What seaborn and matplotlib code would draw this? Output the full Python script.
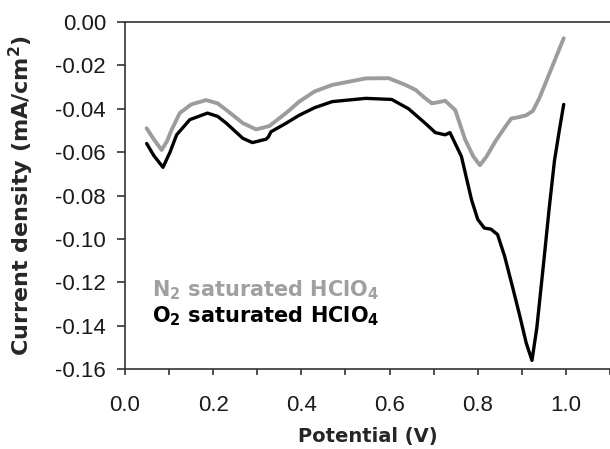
import matplotlib
matplotlib.use("Agg")
import matplotlib.pyplot as plt
import seaborn as sns
import pandas as pd
from matplotlib.ticker import MultipleLocator

# N2 saturated HClO4 (gray)
n2_potential = [0.049, 0.065, 0.083, 0.095, 0.105, 0.124, 0.15, 0.184, 0.21, 0.23, 0.267, 0.297,
                0.327, 0.365, 0.395, 0.43, 0.47, 0.546, 0.598, 0.636, 0.659, 0.68, 0.696, 0.71,
                0.726, 0.749, 0.771, 0.79, 0.805, 0.82, 0.84, 0.86, 0.876, 0.89, 0.91, 0.925,
                0.94, 0.96, 0.978, 0.995]
n2_current = [-0.049, -0.054, -0.059, -0.055, -0.050, -0.042, -0.038, -0.036, -0.0375, -0.0406,
              -0.0466, -0.0495, -0.048, -0.042, -0.0367, -0.032, -0.029, -0.026, -0.0259, -0.029,
              -0.0313, -0.035, -0.0375, -0.037, -0.0363, -0.0406, -0.054, -0.062, -0.066, -0.062,
              -0.055, -0.049, -0.0445, -0.044, -0.043, -0.041, -0.035, -0.025, -0.016, -0.0075]

# O2 saturated HClO4 (black)
o2_potential = [0.049, 0.065, 0.086, 0.102, 0.117, 0.147, 0.187, 0.21, 0.23, 0.267, 0.289, 0.32,
                0.325, 0.331, 0.365, 0.395, 0.43, 0.47, 0.546, 0.605, 0.643, 0.681, 0.704, 0.726,
                0.737, 0.763, 0.786, 0.80, 0.815, 0.83, 0.845, 0.861, 0.88, 0.896, 0.91, 0.923,
                0.934, 0.95, 0.962, 0.974, 0.985, 0.995]
o2_current = [-0.056, -0.0615, -0.067, -0.060, -0.052, -0.045, -0.042, -0.0435, -0.0467, -0.0536,
              -0.0556, -0.054, -0.053, -0.0506, -0.0467, -0.043, -0.0395, -0.0367, -0.0352,
              -0.0357, -0.040, -0.0467, -0.051, -0.052, -0.051, -0.062, -0.082, -0.091, -0.095,
              -0.0955, -0.098, -0.108, -0.123, -0.136, -0.148, -0.156, -0.141, -0.110, -0.086,
              -0.064, -0.050, -0.038]

x_ticks = [0.0, 0.2, 0.4, 0.6, 0.8, 1.0]
y_ticks = [0.00, -0.02, -0.04, -0.06, -0.08, -0.10, -0.12, -0.14, -0.16]

sns.set_style("white")
plt.rcParams['font.family'] = ['Liberation Sans', 'DejaVu Sans']
plt.rcParams['mathtext.fontset'] = 'custom'
plt.rcParams['mathtext.rm'] = 'DejaVu Sans:bold'
plt.rcParams['mathtext.it'] = 'DejaVu Sans:bold'
plt.rcParams['mathtext.bf'] = 'DejaVu Sans:bold'

df_n2 = pd.DataFrame({"Potential": n2_potential, "Current": n2_current})
df_o2 = pd.DataFrame({"Potential": o2_potential, "Current": o2_current})

fig = plt.figure(figsize=(6.1, 4.49), dpi=100)
ax = fig.add_axes([0.205, 0.178, 0.795, 0.773])

sns.lineplot(data=df_n2, x="Potential", y="Current", ax=ax, color="#9c9c9c", lw=2.8, sort=False)
sns.lineplot(data=df_o2, x="Potential", y="Current", ax=ax, color="#000000", lw=2.4, sort=False)

ax.set_xlim(0, 1.1)
ax.set_ylim(-0.16, 0.0)
ax.set_xticks(x_ticks)
ax.set_xticklabels([f"{v:.1f}" for v in x_ticks])
ax.xaxis.set_minor_locator(MultipleLocator(0.1))
ax.set_yticks(y_ticks)
ax.set_yticklabels([f"{v:.2f}" if v != 0 else "0.00" for v in y_ticks])

for s in ["left", "bottom", "top"]:
    ax.spines[s].set_color("#333333")
    ax.spines[s].set_linewidth(1.2)
ax.spines["right"].set_visible(False)

ax.tick_params(axis="x", which="major", direction="out", length=4.5, width=1.2,
               color="#333333", labelsize=16, labelcolor="#1a1a1a", pad=14)
ax.tick_params(axis="x", which="minor", direction="out", length=4.5, width=1.2, color="#333333")
ax.tick_params(axis="y", which="major", direction="out", length=5.8, width=1.2,
               color="#333333", labelsize=16, labelcolor="#1a1a1a", pad=8)
ax.tick_params(axis="x", which="both", bottom=True, top=False)
ax.tick_params(axis="y", which="both", left=True, right=False)

ax.set_xlabel("Potential (V)", fontsize=14, fontweight="bold", family="DejaVu Sans")
ax.set_ylabel("Current density (mA/cm$^2$)", fontsize=16, fontweight="bold", family="DejaVu Sans")
ax.xaxis.set_label_coords(0.5, -0.167)
ax.yaxis.set_label_coords(-0.183, 0.5)

ax.text(0.061, -0.1265, "N$_2$ saturated HClO$_4$", fontsize=15, fontweight="bold",
        family="DejaVu Sans", color="#a0a0a0", ha="left", va="baseline")
ax.text(0.061, -0.1385, "O$_2$ saturated HClO$_4$", fontsize=15, fontweight="bold",
        family="DejaVu Sans", color="#000000", ha="left", va="baseline")

fig.savefig("out.png", dpi=100)
